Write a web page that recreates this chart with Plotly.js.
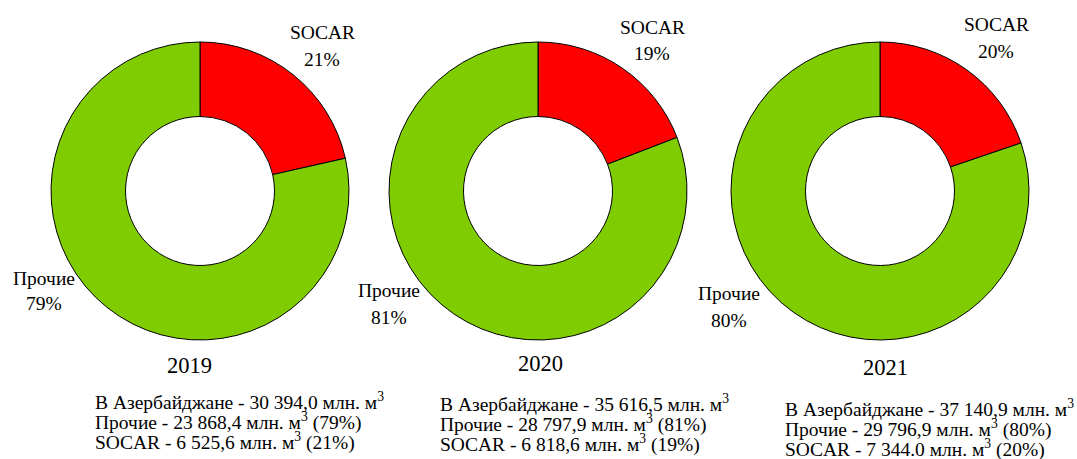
<!DOCTYPE html>
<html>
<head>
<meta charset="utf-8">
<script src="https://cdn.plot.ly/plotly-3.0.1.min.js"></script>
<style>html,body{margin:0;padding:0;background:#fff;}#chart{width:1077px;height:459px;}</style>
</head>
<body>
<div id="chart"></div>
<script>
// Data
const years = ["2019", "2020", "2021"];
const categories = ["SOCAR", "Прочие"];
const socarValues = [6525.6, 6818.6, 7344.0];
const otherValues = [23868.4, 28797.9, 29796.9];
const totalValues = ["30 394,0", "35 616,5", "37 140,9"];
const socarText = ["6 525,6", "6 818,6", "7 344.0"];
const otherText = ["23 868,4", "28 797,9", "29 796,9"];
const socarPct = ["21%", "19%", "20%"];
const otherPct = ["79%", "81%", "80%"];

const W = 1077, H = 459;
const px = x => x / W;
const py = y => 1 - y / H;

// Layout positions (pixels)
const pieCenters = [200, 538, 880];
const pieTop = 42, pieBottom = 340;
const pieSize = pieBottom - pieTop;
const socarLabelPos = [[322, 33, 60], [652, 27, 53], [996, 25, 52]];
const otherLabelPos = [[44, 278, 303], [389, 290, 317], [729, 293, 320]];
const yearPos = [[189, 365], [540, 363], [885, 367]];
const infoPos = [[93, 401], [438, 403], [783, 408]];
const lineGap = 20;

const font = "'Liberation Serif', 'Times New Roman', serif";
const colors = ["#FF0000", "#7FCC00"];

const traces = years.map((yr, i) => ({
  type: "pie",
  values: [socarValues[i], otherValues[i]],
  labels: categories,
  hole: 0.5,
  sort: false,
  direction: "clockwise",
  rotation: 0,
  textinfo: "none",
  hoverinfo: "label+value+percent",
  marker: {colors: colors, line: {color: "#000000", width: 1}},
  domain: {
    x: [px(pieCenters[i] - pieSize / 2), px(pieCenters[i] + pieSize / 2)],
    y: [py(pieBottom), py(pieTop)]
  },
  showlegend: false
}));

const ann = [];
function addText(text, x, y, size, xanchor) {
  ann.push({
    text: text, x: px(x), y: py(y), xref: "paper", yref: "paper",
    xanchor: xanchor || "center", yanchor: "middle", showarrow: false,
    font: {family: font, size: size, color: "#000"}
  });
}
years.forEach((yr, i) => {
  addText("SOCAR", socarLabelPos[i][0], socarLabelPos[i][1], 19.5);
  addText(socarPct[i], socarLabelPos[i][0], socarLabelPos[i][2], 19.5);
  addText("Прочие", otherLabelPos[i][0], otherLabelPos[i][1], 19.5);
  addText(otherPct[i], otherLabelPos[i][0], otherLabelPos[i][2], 19.5);
  addText(yr, yearPos[i][0], yearPos[i][1], 22.5);
  const [ix, iy] = infoPos[i];
  addText("В Азербайджане - " + totalValues[i] + " млн. м<sup>3</sup>", ix, iy, 19.5, "left");
  addText("Прочие - " + otherText[i] + " млн. м<sup>3</sup> (" + otherPct[i] + ")", ix, iy + lineGap, 19.5, "left");
  addText("SOCAR - " + socarText[i] + " млн. м<sup>3</sup> (" + socarPct[i] + ")", ix, iy + 2 * lineGap, 19.5, "left");
});

const layout = {
  width: W, height: H,
  margin: {l: 0, r: 0, t: 0, b: 0},
  paper_bgcolor: "#ffffff",
  plot_bgcolor: "#ffffff",
  showlegend: false,
  annotations: ann,
  font: {family: font}
};

Plotly.newPlot("chart", traces, layout, {displayModeBar: false, staticPlot: true});
</script>
</body>
</html>
